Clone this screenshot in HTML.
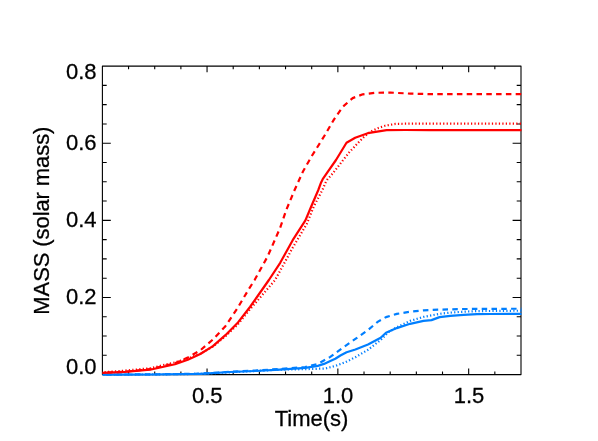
<!DOCTYPE html>
<html><head><meta charset="utf-8"><title>plot</title>
<style>
html,body{margin:0;padding:0;background:#fff;}
svg{display:block;will-change:transform}
text{font-family:"Liberation Sans",sans-serif;font-size:22px;fill:#000;stroke:#000;stroke-width:0.28px}
</style></head><body>
<svg width="598" height="441" viewBox="0 0 598 441">
<rect width="598" height="441" fill="#fff"/>
<g fill="none" stroke="#000" stroke-width="1.1" stroke-linejoin="round">
<rect x="102.4" y="66.1" width="418.6" height="308.5"/>
<path d="M128.56,374.6 v-3.1 M128.56,66.1 v3.1 M154.72,374.6 v-3.1 M154.72,66.1 v3.1 M180.89,374.6 v-3.1 M180.89,66.1 v3.1 M207.05,374.6 v-6.2 M207.05,66.1 v6.2 M233.21,374.6 v-3.1 M233.21,66.1 v3.1 M259.38,374.6 v-3.1 M259.38,66.1 v3.1 M285.54,374.6 v-3.1 M285.54,66.1 v3.1 M311.70,374.6 v-3.1 M311.70,66.1 v3.1 M337.86,374.6 v-6.2 M337.86,66.1 v6.2 M364.02,374.6 v-3.1 M364.02,66.1 v3.1 M390.19,374.6 v-3.1 M390.19,66.1 v3.1 M416.35,374.6 v-3.1 M416.35,66.1 v3.1 M442.51,374.6 v-3.1 M442.51,66.1 v3.1 M468.67,374.6 v-6.2 M468.67,66.1 v6.2 M494.84,374.6 v-3.1 M494.84,66.1 v3.1 M102.4,355.32 h4.3 M521.0,355.32 h-4.3 M102.4,336.04 h4.3 M521.0,336.04 h-4.3 M102.4,316.76 h4.3 M521.0,316.76 h-4.3 M102.4,297.48 h8.4 M521.0,297.48 h-8.4 M102.4,278.19 h4.3 M521.0,278.19 h-4.3 M102.4,258.91 h4.3 M521.0,258.91 h-4.3 M102.4,239.63 h4.3 M521.0,239.63 h-4.3 M102.4,220.35 h8.4 M521.0,220.35 h-8.4 M102.4,201.07 h4.3 M521.0,201.07 h-4.3 M102.4,181.79 h4.3 M521.0,181.79 h-4.3 M102.4,162.51 h4.3 M521.0,162.51 h-4.3 M102.4,143.22 h8.4 M521.0,143.22 h-8.4 M102.4,123.94 h4.3 M521.0,123.94 h-4.3 M102.4,104.66 h4.3 M521.0,104.66 h-4.3 M102.4,85.38 h4.3 M521.0,85.38 h-4.3"/>
</g>
<g fill="none" stroke-width="2.2" stroke-linejoin="round">
<path stroke="#007fff" d="M102.5,374.6 L150.0,374.5 L200.0,373.9 L230.0,372.0 L255.0,371.0 L280.0,369.6 L305.2,367.9 L317.8,365.9 L324.0,363.9 L330.3,360.9 L335.3,358.7 L340.4,355.5 L346.6,352.3 L355.4,349.5 L368.0,344.5 L380.7,337.8 L386.0,332.8 L396.8,328.1 L410.1,323.8 L423.5,320.9 L431.5,320.1 L439.6,317.1 L450.3,315.8 L463.6,314.8 L477.0,314.2 L490.4,314.0 L521.5,313.9"/>
<path stroke="#007fff" stroke-dasharray="1.25 2.23" stroke-dashoffset="-0.9" d="M102.5,374.6 L150.0,374.5 L200.0,373.9 L230.0,372.3 L255.0,371.0 L280.0,369.7 L310.3,369.0 L325.3,368.5 L335.3,365.9 L345.4,362.2 L355.4,357.2 L368.0,349.8 L380.7,340.0 L388.7,332.0 L396.8,327.2 L410.1,320.9 L423.5,316.9 L439.6,313.8 L450.3,312.6 L463.6,311.7 L477.0,311.1 L521.5,310.7"/>
<path stroke="#007fff" stroke-dasharray="5.5 4.3" stroke-dashoffset="-3.2" d="M102.5,374.6 L150.0,374.4 L200.0,373.7 L230.0,371.8 L255.0,370.6 L280.0,368.9 L305.2,367.0 L317.8,363.9 L330.3,356.9 L342.9,347.6 L355.4,338.9 L368.0,330.0 L378.0,321.6 L386.0,317.1 L396.8,313.9 L410.1,311.7 L423.5,310.4 L439.6,309.6 L463.6,309.0 L521.5,308.7"/>
<path stroke="#ff0000" d="M102.5,372.8 L125.0,371.9 L150.0,369.7 L175.0,364.2 L187.8,359.7 L200.3,354.0 L212.9,346.1 L225.4,335.2 L238.0,322.4 L250.0,307.0 L268.9,280.0 L280.2,262.8 L292.7,240.2 L305.4,220.4 L311.0,207.0 L318.3,190.0 L321.1,182.4 L322.7,179.2 L326.5,173.6 L336.0,160.0 L346.5,142.7 L355.2,137.7 L367.8,133.2 L386.6,130.2 L405.4,130.0 L430.0,130.2 L521.5,130.2"/>
<path stroke="#ff0000" stroke-dasharray="1.25 2.23" stroke-dashoffset="1.4" d="M102.5,372.3 L125.0,370.6 L150.0,368.3 L175.0,362.4 L187.8,358.6 L200.3,353.8 L212.9,346.5 L225.4,336.3 L238.0,324.1 L250.0,309.3 L275.1,280.0 L292.7,247.7 L306.7,224.0 L314.0,206.0 L322.4,190.0 L325.6,182.6 L327.2,179.8 L332.6,173.6 L344.1,158.8 L349.3,152.2 L354.3,146.9 L358.9,142.0 L363.6,137.3 L367.8,133.8 L372.5,130.6 L378.7,127.9 L385.3,125.7 L395.4,123.9 L410.4,123.6 L430.0,123.6 L521.5,123.7"/>
<path stroke="#ff0000" stroke-dasharray="5.5 4.3" stroke-dashoffset="-4.7" d="M102.5,372.7 L125.0,371.7 L150.0,369.2 L175.0,363.2 L187.8,357.6 L200.3,350.3 L212.9,339.5 L225.4,326.2 L237.2,308.6 L249.3,288.3 L254.6,280.0 L267.6,256.5 L280.2,227.7 L286.2,210.1 L294.6,190.0 L303.1,171.3 L311.8,156.0 L325.1,134.7 L333.9,119.6 L342.7,106.9 L352.7,98.1 L362.8,94.3 L375.3,92.8 L390.4,92.6 L410.4,93.6 L430.0,94.1 L521.5,94.1"/>
</g>
<g text-anchor="end">
<text x="96.5" y="78.7">0.8</text>
<text x="96.5" y="150.3">0.6</text>
<text x="96.5" y="227.3">0.4</text>
<text x="96.5" y="304.4">0.2</text>
<text x="96.5" y="374.2">0.0</text>
</g>
<g text-anchor="middle">
<text x="207.2" y="402.7">0.5</text>
<text x="338" y="402.7">1.0</text>
<text x="469" y="402.7">1.5</text>
<text x="311.5" y="425.6">Time(s)</text>

</g>
<text transform="translate(49.3,314.7) rotate(-90)" textLength="188.1" lengthAdjust="spacing">MASS (solar mass)</text>
</svg>
</body></html>
